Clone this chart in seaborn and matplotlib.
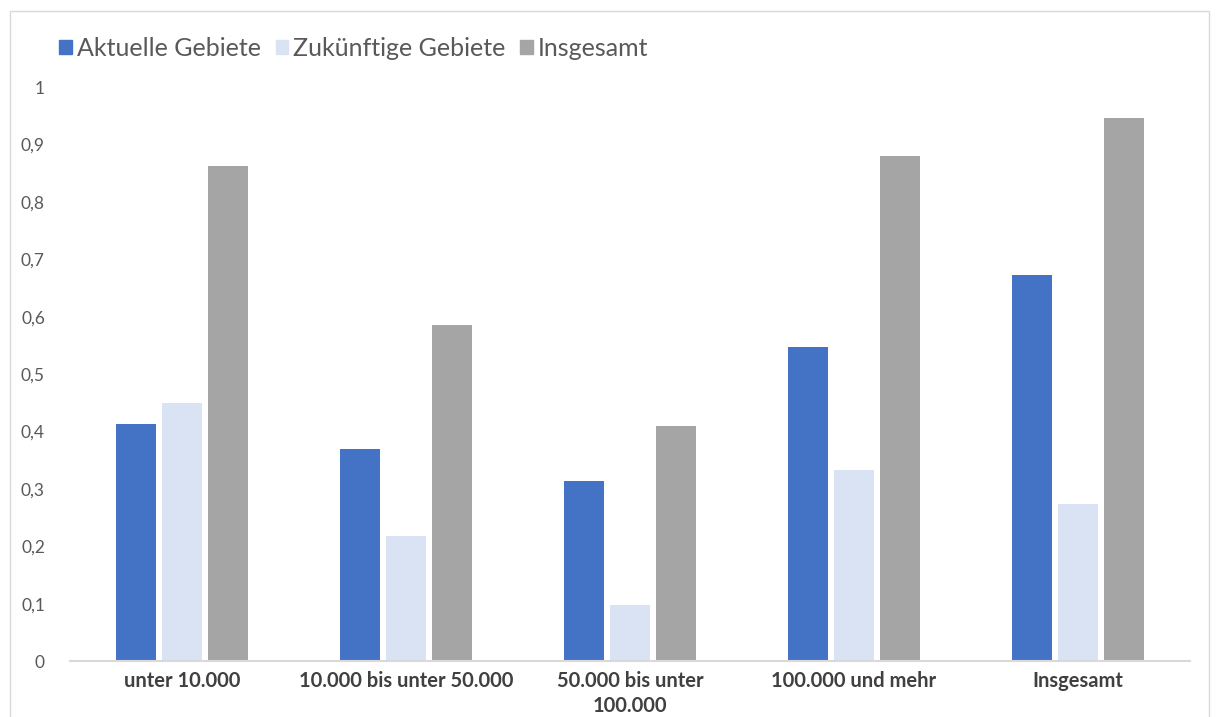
import matplotlib
matplotlib.use('Agg')
import matplotlib.pyplot as plt
import seaborn as sns
import pandas as pd
from matplotlib.patches import Rectangle

# Данные
categories = ['unter 10.000', '10.000 bis unter 50.000', '50.000 bis unter\n100.000',
              '100.000 und mehr', 'Insgesamt']
series = ['Aktuelle Gebiete', 'Zukünftige Gebiete', 'Insgesamt']
aktuelle = [0.413, 0.369, 0.314, 0.547, 0.672]
zukuenftige = [0.449, 0.218, 0.098, 0.333, 0.273]
insgesamt = [0.862, 0.585, 0.409, 0.880, 0.946]
y_ticks = [0, 0.1, 0.2, 0.3, 0.4, 0.5, 0.6, 0.7, 0.8, 0.9, 1.0]
y_tick_labels = ['0', '0,1', '0,2', '0,3', '0,4', '0,5', '0,6', '0,7', '0,8', '0,9', '1']
colors = ['#4472c4', '#dae3f3', '#a5a5a5']

df = pd.DataFrame({
    'category': categories * 3,
    'series': [s for s in series for _ in categories],
    'value': aktuelle + zukuenftige + insgesamt,
})

sns.set_style('white')
plt.rcParams['font.family'] = ['Lato', 'DejaVu Sans']

fig = plt.figure(figsize=(12.19, 7.17), dpi=100)
ax = fig.add_axes([0.0574, 0.078, 0.9188, 0.8006])

sns.barplot(data=df, x='category', y='value', hue='series', order=categories,
            hue_order=series, palette=colors, width=0.616, gap=0.13,
            saturation=1, linewidth=0, ax=ax, legend=False)

ax.set_ylim(0, 1)
ax.set_xlim(-0.5, 4.5)
ax.set_yticks(y_ticks)
ax.set_yticklabels(y_tick_labels, fontsize=12.5, color='#595959')
ax.tick_params(axis='x', labelsize=14.5, colors='#404040', length=0, pad=7)
ax.tick_params(axis='y', length=0, pad=18)
for lab in ax.get_xticklabels():
    lab.set_fontweight('bold')
    lab.set_linespacing(1.3)
ax.set_xlabel('')
ax.set_ylabel('')
for side in ['top', 'right', 'left']:
    ax.spines[side].set_visible(False)
ax.spines['bottom'].set_color('#d9d9d9')
ax.spines['bottom'].set_linewidth(1.5)

# Легенда сверху слева
handles = [Rectangle((0, 0), 1, 1, color=c) for c in colors]
leg = fig.legend(handles, series, loc='upper left', bbox_to_anchor=(0.03, 0.98),
                 ncol=3, frameon=False, fontsize=18, handlelength=0.5, handleheight=0.5,
                 handletextpad=0.2, columnspacing=0.6)
for t in leg.get_texts():
    t.set_color('#595959')

# Рамка вокруг диаграммы
fig.patches.append(Rectangle((0.008, -0.01), 0.984, 0.995, transform=fig.transFigure,
                             fill=False, edgecolor='#d9d9d9', linewidth=1))

fig.savefig('out.png', dpi=100)
plt.close(fig)
